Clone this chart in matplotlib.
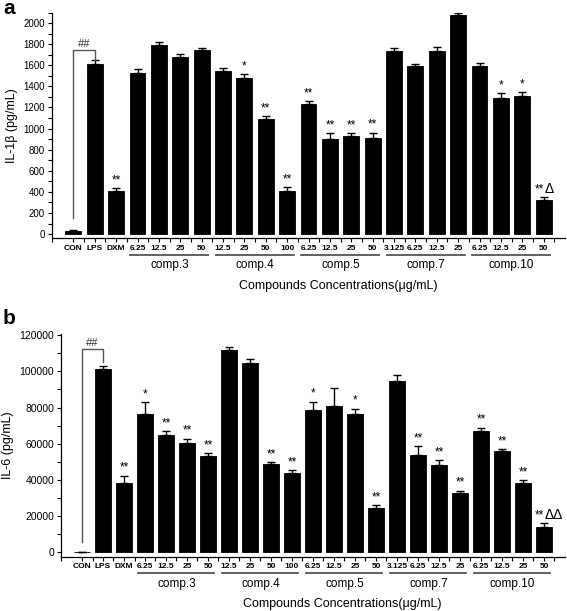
import numpy as np
import matplotlib
matplotlib.use("Agg")
import matplotlib.pyplot as plt
from matplotlib.ticker import MultipleLocator, FixedLocator
from matplotlib.transforms import ScaledTranslation

plt.rcParams['font.family'] = ['Liberation Sans', 'DejaVu Sans']

# x tick labels (one per bar)
tick_labels = ['CON', 'LPS', 'DXM',
               '6.25', '12.5', '25', '50',
               '12.5', '25', '50', '100',
               '6.25', '12.5', '25', '50',
               '3.125', '6.25', '12.5', '25',
               '6.25', '12.5', '25', '50']
groups = ['comp.3', 'comp.4', 'comp.5', 'comp.7', 'comp.10']
group_start = [3, 7, 11, 15, 19]
group_end = [6, 10, 14, 18, 22]

# panel a: IL-1beta
il1b_mean = [25, 1615, 411,
             1526, 1795, 1675, 1741,
             1542, 1475, 1090, 411,
             1232, 900, 926, 910,
             1731, 1592, 1731, 2076,
             1589, 1289, 1311, 319]
il1b_err = [10, 34, 25,
            38, 25, 28, 25,
            31, 38, 25, 34,
            29, 57, 28, 50,
            35, 23, 38, 22,
            32, 44, 32, 29]
il1b_sig = ['', '', '**',
            '', '', '', '',
            '', '*', '**', '**',
            '**', '**', '**', '**',
            '', '', '', '',
            '', '*', '*', '**']

# panel b: IL-6
il6_mean = [300, 101400, 38100,
            76200, 64950, 60200, 53400,
            111700, 104500, 48760, 43600,
            78400, 80960, 76360, 24300,
            94900, 53900, 48000, 32600,
            67300, 55750, 38460, 14170]
il6_err = [0, 1600, 4200,
           6800, 1850, 2500, 1400,
           1600, 2400, 1100, 1800,
           4800, 10000, 2900, 1600,
           3200, 4600, 3000, 1400,
           1500, 1100, 1400, 1800]
il6_sig = ['', '', '**',
           '*', '**', '**', '**',
           '', '', '**', '**',
           '*', '', '*', '**',
           '', '**', '**', '**',
           '**', '**', '**', '**']

W, H = 567, 611
fig = plt.figure(figsize=(W / 100, H / 100), dpi=100)
x = np.arange(len(tick_labels))


def draw_panel(ax, mean, err, sig, ylim, major, minor, ylabel, tick_fs,
               hash_y, bracket_low, bracket_right, last_mark, mark_dx):
    ax.bar(x, mean, width=0.74, color='black', edgecolor='black', linewidth=0.6)
    ax.errorbar(x, mean, yerr=[np.zeros(len(err)), err], fmt='none',
                ecolor='black', elinewidth=1.0, capsize=3, capthick=1.0)
    ax.set_xlim(-1, 23)
    ax.set_ylim(*ylim)
    for s in ['top', 'right']:
        ax.spines[s].set_visible(False)
    for s in ['left', 'bottom']:
        ax.spines[s].set_linewidth(0.9)

    ax.xaxis.set_major_locator(FixedLocator(x))
    ax.xaxis.set_minor_locator(FixedLocator(np.concatenate([[-1], x + 0.5])))
    ax.set_xticklabels(tick_labels, fontsize=6, fontweight='bold')
    ax.yaxis.set_major_locator(MultipleLocator(major))
    ax.yaxis.set_minor_locator(MultipleLocator(minor))
    ax.tick_params(axis='both', which='both', direction='out', length=3,
                   width=0.8, pad=1.5)
    ax.tick_params(axis='y', labelsize=tick_fs, pad=2)
    ax.set_ylabel(ylabel, fontsize=9, labelpad=4)

    # significance marks above the error caps
    top = np.array(mean) + np.array(err)
    last = len(sig) - 1
    for i, s in enumerate(sig):
        if not s or i == last:
            continue
        ax.annotate(s, (x[i], top[i]), xytext=(0, 1.5), textcoords='offset points',
                    ha='center', va='bottom', fontsize=8.5)
    # last bar: "**" followed by the delta mark(s)
    ax.annotate(sig[last], (x[last], top[last]), xytext=(mark_dx[0], 1.5),
                textcoords='offset points', ha='right', va='bottom', fontsize=8.5)
    ax.annotate(last_mark, (x[last], top[last]), xytext=(mark_dx[1], 1),
                textcoords='offset points', ha='left', va='bottom', fontsize=10)

    # ## bracket between CON and LPS
    ax.plot([0, 0, 1, 1], [bracket_low, hash_y, hash_y, bracket_right],
            color='#555555', lw=1.0, clip_on=False)
    ax.annotate('##', (0.5, hash_y), xytext=(0, 1), textcoords='offset points',
                ha='center', va='bottom', fontsize=8, color='#333333')

    # group lines and names under the axis
    shift = ax.get_xaxis_transform() + ScaledTranslation(0, -12 / 72, fig.dpi_scale_trans)
    for g, a, b in zip(groups, group_start, group_end):
        ax.plot([a - 0.35, b + 0.3], [0, 0], transform=shift,
                color='#555555', lw=1.3, clip_on=False)
        ax.annotate(g, ((a + b) / 2, 0), xycoords=('data', 'axes fraction'),
                    xytext=(0, -19.5), textcoords='offset points',
                    ha='center', va='center', fontsize=8.5)
    ax.annotate('Compounds Concentrations(\u03bcg/mL)', (12.4, 0),
                xycoords=('data', 'axes fraction'), xytext=(0, -34),
                textcoords='offset points', ha='center', va='center', fontsize=9)


ax_a = fig.add_axes([52 / W, (H - 238.3) / H, 513 / W, 225.8 / H])
draw_panel(ax_a, il1b_mean, il1b_err, il1b_sig, (-40, 2100), 200, 100,
           'IL-1\u03b2 (pg/mL)', 7, 1741, 150, 1652, '\u0394', (0.5, 0.8))

ax_b = fig.add_axes([61 / W, (H - 556.7) / H, 504 / W, 222.5 / H])
draw_panel(ax_b, il6_mean, il6_err, il6_sig, (-2400, 120500), 20000, 10000,
           'IL-6 (pg/mL)', 7.5, 112200, 5900, 105200, '\u0394\u0394', (0.0, 0.8))

fig.text(9 / W, 1 - 9 / H, 'a', fontsize=15, fontweight='bold', ha='center', va='center')
fig.text(9 / W, 1 - 318 / H, 'b', fontsize=15, fontweight='bold', ha='center', va='center')

fig.savefig('out.png', dpi=100)
